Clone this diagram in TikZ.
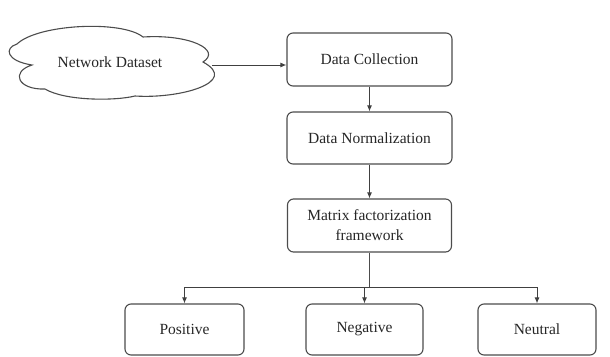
\documentclass[tikz,border=0pt]{standalone}
\usepackage{fontspec}
\setmainfont{Liberation Serif}
\usetikzlibrary{arrows.meta}
\begin{document}
\begin{tikzpicture}[x=1pt,y=-1pt,
  line/.style={draw=black!70, line width=1.1pt},
  box/.style={line, rounded corners=6pt, align=center, inner sep=0pt,
    font=\fontsize{15.5}{20}\selectfont, text=black!85},
  conn/.style={draw=black!75, line width=1pt, -{Latex[length=6pt,width=5pt]}},
]
\useasboundingbox (0,0) rectangle (610,356);
% cloud
\draw[line] (17,44) .. controls (4,48) and (6,61) .. (32,65)
  .. controls (10,72) and (18,90) .. (45,89)
  .. controls (65,101) and (115,101) .. (135,96)
  .. controls (180,99) and (240,82) .. (203,62)
  .. controls (222,50) and (190,34) .. (143,37)
  .. controls (122,20) and (38,24) .. (17,44) -- cycle;
\node[font=\fontsize{15.5}{20}\selectfont, text=black!85] (nd) at (110,62) {Network Dataset};
\coordinate (cl) at (212,65);

\node[box, minimum width=165pt, minimum height=53pt] (dc) at (369.5,59.5) {Data Collection};
\node[box, minimum width=165pt, minimum height=52pt] (dn) at (369.5,138) {Data Normalization};
\node[box, minimum width=164pt, minimum height=53pt] (mf) at (369.5,225.5) {Matrix factorization\\framework};
\node[box, minimum width=119pt, minimum height=51pt] (pos) at (184.5,329.5) {Positive};
\node[box, minimum width=117pt, minimum height=51pt] (neg) at (364.5,329.5) {Negative};
\node[box, minimum width=118pt, minimum height=51pt] (neu) at (537,329.5) {Neutral};

\draw[conn] (cl) -- (cl -| dc.west);
\draw[conn] (dc) -- (dn);
\draw[conn] (dn) -- (mf);
\coordinate (j) at (369.5,287);
\draw[line] (mf.south) -- (j);
\draw[conn] (j) -| (pos.north);
\draw[conn] (j) -| (neu.north);
\draw[conn] (j -| neg.north) -- (neg.north);
\end{tikzpicture}
\end{document}
